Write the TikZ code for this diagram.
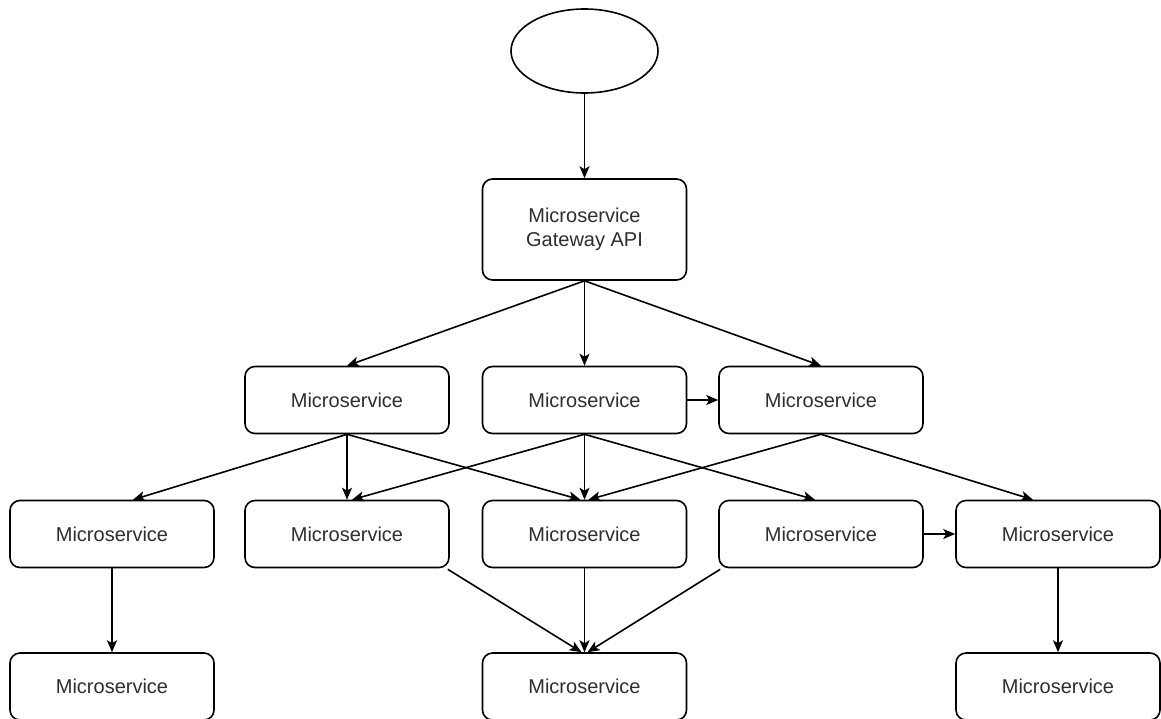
\documentclass[tikz,border=0pt]{standalone}
\usepackage{fontspec}
\setmainfont{Liberation Sans}
\usetikzlibrary{arrows.meta,shapes.geometric}
\definecolor{txt}{HTML}{2E2E2E}
\begin{document}
\begin{tikzpicture}[x=1pt,y=-1pt,
  svc/.style={draw=black, line width=1.6pt, rounded corners=10pt, fill=white,
    minimum width=204pt, minimum height=67pt, inner sep=0pt,
    font=\fontsize{20pt}{23.5pt}\selectfont, text=txt, align=center},
  start/.style={draw=black, line width=1.6pt, ellipse, fill=white,
    minimum width=147pt, minimum height=84pt, inner sep=0pt},
  link/.style={draw=black, line width=1.6pt,
    -{Stealth[length=12pt,width=10pt,inset=3pt]}}]
\clip (0,0) rectangle (1161,718);
\fill[white] (0,0) rectangle (1161,718);

% entry point and gateway
\node[start] (ell) at (584.5,51) {};
\node[svc, minimum height=101pt] (gw) at (584.5,229.5) {Microservice\\Gateway API};

% second tier
\node[svc] (a1) at (347,400) {Microservice};
\node[svc] (a2) at (584.5,400) {Microservice};
\node[svc] (a3) at (821,400) {Microservice};

% third tier
\node[svc] (b1) at (112,534) {Microservice};
\node[svc] (b2) at (347,534) {Microservice};
\node[svc] (b3) at (584.5,534) {Microservice};
\node[svc] (b4) at (821,534) {Microservice};
\node[svc] (b5) at (1058,534) {Microservice};

% bottom tier
\node[svc] (c1) at (112,686.5) {Microservice};
\node[svc] (c3) at (584.5,686.5) {Microservice};
\node[svc] (c5) at (1058,686.5) {Microservice};

% connectors
\draw[link] (ell.south) -- (gw.north);
\draw[link] (gw.south) -- (a1.north);
\draw[link] (gw.south) -- (a2.north);
\draw[link] (gw.south) -- (a3.north);
\draw[link] (a2.east) -- (a3.west);

\draw[link] (a1.south) -- ([xshift=21pt]b1.north);
\draw[link] (a1.south) -- (b2.north);
\draw[link] (a1.south) -- ([xshift=-4pt]b3.north);
\draw[link] (a2.south) -- ([xshift=5pt]b2.north);
\draw[link] (a2.south) -- (b3.north);
\draw[link] (a2.south) -- ([xshift=-6pt]b4.north);
\draw[link] (a3.south) -- ([xshift=4pt]b3.north);
\draw[link] (a3.south) -- ([xshift=-25pt]b5.north);
\draw[link] (b4.east) -- (b5.west);

\draw[link] (b1.south) -- (c1.north);
\draw[link] ([shift={(-2pt,-1pt)}]b2.south east) -- ([xshift=-3pt]c3.north);
\draw[link] (b3.south) -- (c3.north);
\draw[link] ([shift={(2pt,-1pt)}]b4.south west) -- ([xshift=3pt]c3.north);
\draw[link] (b5.south) -- (c5.north);
\end{tikzpicture}
\end{document}
